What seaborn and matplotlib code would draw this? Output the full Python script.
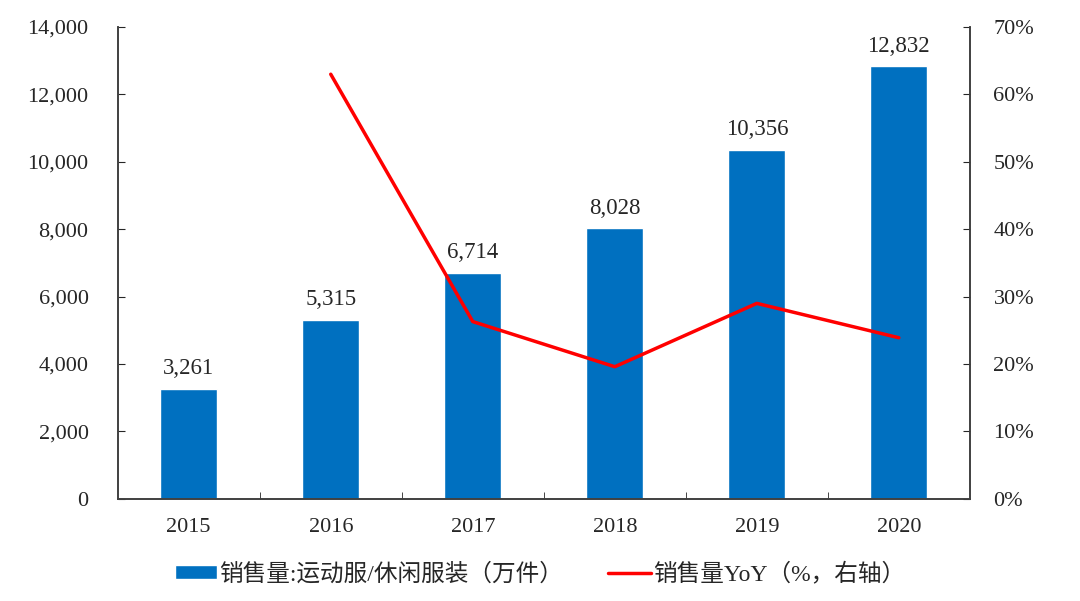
import matplotlib
matplotlib.use("Agg")
import matplotlib.pyplot as plt
import seaborn as sns
import pandas as pd
from matplotlib.ticker import FuncFormatter, PercentFormatter

years = ["2015", "2016", "2017", "2018", "2019", "2020"]
sales = [3261, 5315, 6714, 8028, 10356, 12832]
yoy_years = ["2016", "2017", "2018", "2019", "2020"]
yoy = [63.0, 26.3, 19.6, 29.0, 23.9]

bar_label = "销售量:运动服/休闲服装（万件）"
line_label = "销售量YoY（%，右轴）"

sns.set_style("ticks")
plt.rcParams["font.family"] = ["Liberation Serif", "Noto Sans CJK SC"]
plt.rcParams["axes.unicode_minus"] = False

df = pd.DataFrame({"year": years, "sales": sales})

fig, ax = plt.subplots(figsize=(10.8, 6.01), dpi=100)
fig.subplots_adjust(left=0.109, right=0.898, top=0.955, bottom=0.170)

sns.barplot(df, x="year", y="sales", color="#0070C0", saturation=1,
            width=0.4, ax=ax, label=bar_label)
if ax.legend_ is not None:
    ax.legend_.remove()
ax.bar_label(ax.containers[0], labels=[f"{v:,}" for v in sales],
             padding=7, fontsize=16.5)

ax.set_ylim(0, 14000)
ax.set_yticks(range(0, 14001, 2000))
ax.yaxis.set_major_formatter(FuncFormatter(lambda v, p: f"{v:,.0f}"))
ax.set_xlim(-0.5, len(years) - 0.5)
ax.set_xlabel("")
ax.set_ylabel("")
ax.tick_params(axis="both", labelsize=16, direction="in", length=5)
ax.tick_params(axis="y", pad=21)
ax.tick_params(axis="x", length=0, pad=14)
ax.set_xticks([i + 0.5 for i in range(len(years) - 1)], minor=True)
ax.tick_params(axis="x", which="minor", direction="in", length=5)

ax2 = ax.twinx()
pos = [years.index(y) for y in yoy_years]
ax2.plot(pos, yoy, color="#FF0000", lw=2.5, label=line_label)
ax2.set_ylim(0, 70)
ax2.set_yticks(range(0, 71, 10))
ax2.yaxis.set_major_formatter(PercentFormatter(decimals=0))
ax2.tick_params(axis="y", labelsize=16, direction="in", length=5, pad=17)

for a in (ax, ax2):
    a.spines["top"].set_visible(False)
    for s in a.spines.values():
        s.set_color("#404040")
        s.set_linewidth(1.2)

h1, l1 = ax.get_legend_handles_labels()
h2, l2 = ax2.get_legend_handles_labels()
fig.legend(h1 + h2, l1 + l2, loc="center", bbox_to_anchor=(0.5, 0.045),
           ncol=2, frameon=False, fontsize=17, handlelength=1.8,
           handleheight=0.55, columnspacing=1.9, handletextpad=0.1)

fig.savefig("out.png", dpi=100)
